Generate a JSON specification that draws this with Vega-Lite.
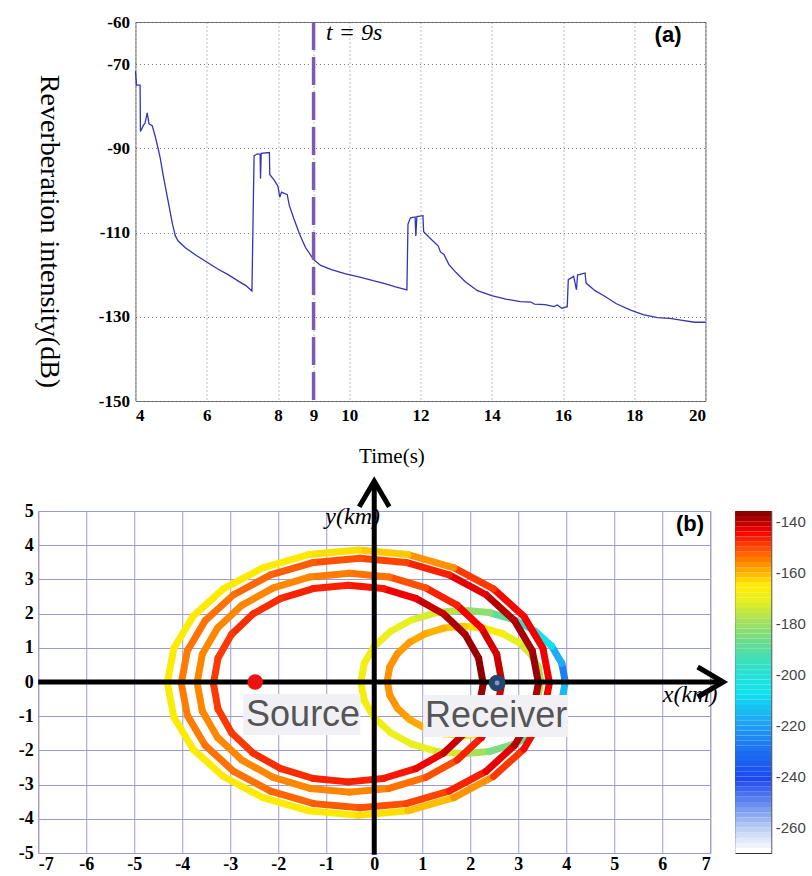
{
"$schema": "https://vega.github.io/schema/vega-lite/v6.json",
"background": "white",
"padding": {"left": 17, "top": 12, "right": 0, "bottom": 0},
"center": true,
"spacing": 3,
"datasets": {
"rev": [
{"t":4.0,"db":-71.7},{"t":4.03,"db":-75.0},{"t":4.13,"db":-75.0},{"t":4.14,"db":-86.0},{"t":4.22,"db":-84.6},{"t":4.27,"db":-84.0},{"t":4.33,"db":-81.6},{"t":4.38,"db":-84.2},{"t":4.47,"db":-84.6},{"t":4.55,"db":-87.0},{"t":4.63,"db":-89.8},{"t":4.7,"db":-92.5},{"t":4.78,"db":-96.5},{"t":4.86,"db":-100.0},{"t":4.95,"db":-104.0},{"t":5.04,"db":-108.0},{"t":5.12,"db":-110.8},{"t":5.2,"db":-112.0},{"t":5.4,"db":-113.6},{"t":5.7,"db":-115.4},{"t":6.0,"db":-117.0},{"t":6.3,"db":-118.6},{"t":6.6,"db":-120.0},{"t":6.9,"db":-121.6},{"t":7.1,"db":-122.6},{"t":7.27,"db":-123.9},
{"t":7.3,"db":-107.5},{"t":7.33,"db":-91.8},{"t":7.42,"db":-91.3},{"t":7.5,"db":-91.4},{"t":7.51,"db":-97.2},{"t":7.53,"db":-91.2},{"t":7.76,"db":-91.0},{"t":7.77,"db":-96.2},{"t":7.9,"db":-97.6},{"t":8.0,"db":-99.0},{"t":8.05,"db":-101.6},{"t":8.1,"db":-100.4},{"t":8.26,"db":-101.0},{"t":8.32,"db":-103.6},{"t":8.45,"db":-106.8},{"t":8.6,"db":-110.2},{"t":8.77,"db":-113.5},{"t":9.0,"db":-116.4},{"t":9.2,"db":-117.8},{"t":9.5,"db":-118.8},{"t":9.9,"db":-119.8},{"t":10.3,"db":-120.6},{"t":10.7,"db":-121.5},{"t":11.0,"db":-122.1},{"t":11.3,"db":-122.9},{"t":11.62,"db":-123.6},
{"t":11.65,"db":-108.0},{"t":11.72,"db":-106.5},{"t":11.85,"db":-106.3},{"t":11.87,"db":-110.8},{"t":11.9,"db":-106.2},{"t":12.07,"db":-106.0},{"t":12.09,"db":-109.8},{"t":12.3,"db":-111.6},{"t":12.5,"db":-113.2},{"t":12.56,"db":-114.6},{"t":12.66,"db":-115.2},{"t":12.8,"db":-117.6},{"t":13.0,"db":-119.5},{"t":13.25,"db":-121.6},{"t":13.6,"db":-123.8},{"t":14.0,"db":-125.0},{"t":14.4,"db":-125.8},{"t":14.8,"db":-126.4},{"t":15.1,"db":-126.5},{"t":15.2,"db":-127.0},{"t":15.5,"db":-127.1},{"t":15.75,"db":-127.6},{"t":15.84,"db":-127.2},{"t":15.97,"db":-128.0},{"t":16.12,"db":-127.6},
{"t":16.15,"db":-121.2},{"t":16.3,"db":-120.4},{"t":16.38,"db":-123.6},{"t":16.41,"db":-120.1},{"t":16.62,"db":-119.6},{"t":16.65,"db":-122.0},{"t":16.9,"db":-123.8},{"t":17.15,"db":-125.0},{"t":17.5,"db":-126.9},{"t":17.9,"db":-128.4},{"t":18.25,"db":-129.5},{"t":18.65,"db":-130.2},{"t":19.0,"db":-130.4},{"t":19.31,"db":-130.8},{"t":19.7,"db":-131.3},{"t":20.0,"db":-131.3}
],
"rings": [
{"ring":1,"k":0,"x":3.98,"y":0,"v":-228},{"ring":1,"k":1,"x":3.908,"y":0.544,"v":-218},{"ring":1,"k":2,"x":3.695,"y":1.05,"v":-207},{"ring":1,"k":3,"x":3.356,"y":1.485,"v":-198},{"ring":1,"k":4,"x":2.915,"y":1.819,"v":-190},{"ring":1,"k":5,"x":2.402,"y":2.029,"v":-183},{"ring":1,"k":6,"x":1.85,"y":2.1,"v":-178},{"ring":1,"k":7,"x":1.298,"y":2.029,"v":-174},{"ring":1,"k":8,"x":0.785,"y":1.819,"v":-172},{"ring":1,"k":9,"x":0.344,"y":1.485,"v":-171},{"ring":1,"k":10,"x":0.005,"y":1.05,"v":-170},{"ring":1,"k":11,"x":-0.208,"y":0.544,"v":-169},{"ring":1,"k":12,"x":-0.28,"y":0,"v":-168},{"ring":1,"k":13,"x":-0.208,"y":-0.544,"v":-169},{"ring":1,"k":14,"x":0.005,"y":-1.05,"v":-170},{"ring":1,"k":15,"x":0.344,"y":-1.485,"v":-171},{"ring":1,"k":16,"x":0.785,"y":-1.819,"v":-172},{"ring":1,"k":17,"x":1.298,"y":-2.029,"v":-175},{"ring":1,"k":18,"x":1.85,"y":-2.1,"v":-180},{"ring":1,"k":19,"x":2.402,"y":-2.029,"v":-186},{"ring":1,"k":20,"x":2.915,"y":-1.819,"v":-192},{"ring":1,"k":21,"x":3.356,"y":-1.485,"v":-198},{"ring":1,"k":22,"x":3.695,"y":-1.05,"v":-205},{"ring":1,"k":23,"x":3.908,"y":-0.544,"v":-216},{"ring":1,"k":24,"x":3.98,"y":0,"v":-228},
{"ring":2,"k":0,"x":3.47,"y":0.03,"v":-180},{"ring":2,"k":1,"x":3.416,"y":0.444,"v":-178},{"ring":2,"k":2,"x":3.256,"y":0.83,"v":-175},{"ring":2,"k":3,"x":3.001,"y":1.161,"v":-172},{"ring":2,"k":4,"x":2.67,"y":1.416,"v":-168},{"ring":2,"k":5,"x":2.284,"y":1.576,"v":-165},{"ring":2,"k":6,"x":1.87,"y":1.63,"v":-163},{"ring":2,"k":7,"x":1.456,"y":1.576,"v":-161},{"ring":2,"k":8,"x":1.07,"y":1.416,"v":-160},{"ring":2,"k":9,"x":0.739,"y":1.161,"v":-159},{"ring":2,"k":10,"x":0.484,"y":0.83,"v":-158},{"ring":2,"k":11,"x":0.324,"y":0.444,"v":-158},{"ring":2,"k":12,"x":0.27,"y":0.03,"v":-158},{"ring":2,"k":13,"x":0.324,"y":-0.384,"v":-158},{"ring":2,"k":14,"x":0.484,"y":-0.77,"v":-159},{"ring":2,"k":15,"x":0.739,"y":-1.101,"v":-160},{"ring":2,"k":16,"x":1.07,"y":-1.356,"v":-162},{"ring":2,"k":17,"x":1.456,"y":-1.516,"v":-165},{"ring":2,"k":18,"x":1.87,"y":-1.57,"v":-168},{"ring":2,"k":19,"x":2.284,"y":-1.516,"v":-171},{"ring":2,"k":20,"x":2.67,"y":-1.356,"v":-174},{"ring":2,"k":21,"x":3.001,"y":-1.101,"v":-176},{"ring":2,"k":22,"x":3.256,"y":-0.77,"v":-178},{"ring":2,"k":23,"x":3.416,"y":-0.384,"v":-179},{"ring":2,"k":24,"x":3.47,"y":0.03,"v":-180},
{"ring":3,"k":0,"x":3.65,"y":-0.02,"v":-145},{"ring":3,"k":1,"x":3.515,"y":0.985,"v":-145},{"ring":3,"k":2,"x":3.117,"y":1.92,"v":-146},{"ring":3,"k":3,"x":2.484,"y":2.723,"v":-150},{"ring":3,"k":4,"x":1.66,"y":3.34,"v":-158},{"ring":3,"k":5,"x":0.701,"y":3.728,"v":-163},{"ring":3,"k":6,"x":-0.33,"y":3.86,"v":-165},{"ring":3,"k":7,"x":-1.361,"y":3.728,"v":-166},{"ring":3,"k":8,"x":-2.32,"y":3.34,"v":-166},{"ring":3,"k":9,"x":-3.144,"y":2.723,"v":-166},{"ring":3,"k":10,"x":-3.777,"y":1.92,"v":-167},{"ring":3,"k":11,"x":-4.175,"y":0.985,"v":-167},{"ring":3,"k":12,"x":-4.31,"y":-0.02,"v":-168},{"ring":3,"k":13,"x":-4.175,"y":-1.025,"v":-167},{"ring":3,"k":14,"x":-3.777,"y":-1.96,"v":-166},{"ring":3,"k":15,"x":-3.144,"y":-2.763,"v":-166},{"ring":3,"k":16,"x":-2.32,"y":-3.38,"v":-166},{"ring":3,"k":17,"x":-1.361,"y":-3.768,"v":-166},{"ring":3,"k":18,"x":-0.33,"y":-3.9,"v":-165},{"ring":3,"k":19,"x":0.701,"y":-3.768,"v":-162},{"ring":3,"k":20,"x":1.66,"y":-3.38,"v":-158},{"ring":3,"k":21,"x":2.484,"y":-2.763,"v":-150},{"ring":3,"k":22,"x":3.117,"y":-1.96,"v":-146},{"ring":3,"k":23,"x":3.515,"y":-1.025,"v":-145},{"ring":3,"k":24,"x":3.65,"y":-0.02,"v":-145},
{"ring":4,"k":0,"x":3.42,"y":-0.03,"v":-139},{"ring":4,"k":1,"x":3.293,"y":0.915,"v":-140},{"ring":4,"k":2,"x":2.922,"y":1.795,"v":-141},{"ring":4,"k":3,"x":2.33,"y":2.551,"v":-144},{"ring":4,"k":4,"x":1.56,"y":3.131,"v":-148},{"ring":4,"k":5,"x":0.663,"y":3.496,"v":-151},{"ring":4,"k":6,"x":-0.3,"y":3.62,"v":-152},{"ring":4,"k":7,"x":-1.263,"y":3.496,"v":-153},{"ring":4,"k":8,"x":-2.16,"y":3.131,"v":-154},{"ring":4,"k":9,"x":-2.93,"y":2.551,"v":-155},{"ring":4,"k":10,"x":-3.522,"y":1.795,"v":-155},{"ring":4,"k":11,"x":-3.893,"y":0.915,"v":-156},{"ring":4,"k":12,"x":-4.02,"y":-0.03,"v":-156},{"ring":4,"k":13,"x":-3.893,"y":-0.975,"v":-156},{"ring":4,"k":14,"x":-3.522,"y":-1.855,"v":-155},{"ring":4,"k":15,"x":-2.93,"y":-2.611,"v":-155},{"ring":4,"k":16,"x":-2.16,"y":-3.191,"v":-154},{"ring":4,"k":17,"x":-1.263,"y":-3.556,"v":-153},{"ring":4,"k":18,"x":-0.3,"y":-3.68,"v":-152},{"ring":4,"k":19,"x":0.663,"y":-3.556,"v":-151},{"ring":4,"k":20,"x":1.56,"y":-3.191,"v":-148},{"ring":4,"k":21,"x":2.33,"y":-2.611,"v":-144},{"ring":4,"k":22,"x":2.922,"y":-1.855,"v":-141},{"ring":4,"k":23,"x":3.293,"y":-0.975,"v":-140},{"ring":4,"k":24,"x":3.42,"y":-0.03,"v":-139},
{"ring":5,"k":0,"x":2.66,"y":-0.02,"v":-142},{"ring":5,"k":1,"x":2.552,"y":0.809,"v":-143},{"ring":5,"k":2,"x":2.235,"y":1.58,"v":-145},{"ring":5,"k":3,"x":1.73,"y":2.242,"v":-148},{"ring":5,"k":4,"x":1.073,"y":2.751,"v":-152},{"ring":5,"k":5,"x":0.307,"y":3.071,"v":-155},{"ring":5,"k":6,"x":-0.515,"y":3.18,"v":-156},{"ring":5,"k":7,"x":-1.337,"y":3.071,"v":-157},{"ring":5,"k":8,"x":-2.103,"y":2.751,"v":-157},{"ring":5,"k":9,"x":-2.76,"y":2.242,"v":-157},{"ring":5,"k":10,"x":-3.265,"y":1.58,"v":-157},{"ring":5,"k":11,"x":-3.582,"y":0.809,"v":-157},{"ring":5,"k":12,"x":-3.69,"y":-0.02,"v":-157},{"ring":5,"k":13,"x":-3.582,"y":-0.849,"v":-157},{"ring":5,"k":14,"x":-3.265,"y":-1.62,"v":-157},{"ring":5,"k":15,"x":-2.76,"y":-2.282,"v":-157},{"ring":5,"k":16,"x":-2.103,"y":-2.791,"v":-157},{"ring":5,"k":17,"x":-1.337,"y":-3.111,"v":-157},{"ring":5,"k":18,"x":-0.515,"y":-3.22,"v":-157},{"ring":5,"k":19,"x":0.307,"y":-3.111,"v":-155},{"ring":5,"k":20,"x":1.073,"y":-2.791,"v":-152},{"ring":5,"k":21,"x":1.73,"y":-2.282,"v":-148},{"ring":5,"k":22,"x":2.235,"y":-1.62,"v":-145},{"ring":5,"k":23,"x":2.552,"y":-0.849,"v":-143},{"ring":5,"k":24,"x":2.66,"y":-0.02,"v":-142},
{"ring":6,"k":0,"x":2.27,"y":-0.045,"v":-138},{"ring":6,"k":1,"x":2.174,"y":0.7,"v":-139},{"ring":6,"k":2,"x":1.893,"y":1.393,"v":-140},{"ring":6,"k":3,"x":1.447,"y":1.988,"v":-142},{"ring":6,"k":4,"x":0.865,"y":2.445,"v":-145},{"ring":6,"k":5,"x":0.188,"y":2.732,"v":-147},{"ring":6,"k":6,"x":-0.54,"y":2.83,"v":-148},{"ring":6,"k":7,"x":-1.268,"y":2.732,"v":-148},{"ring":6,"k":8,"x":-1.945,"y":2.445,"v":-149},{"ring":6,"k":9,"x":-2.527,"y":1.988,"v":-149},{"ring":6,"k":10,"x":-2.973,"y":1.393,"v":-150},{"ring":6,"k":11,"x":-3.254,"y":0.7,"v":-150},{"ring":6,"k":12,"x":-3.35,"y":-0.045,"v":-150},{"ring":6,"k":13,"x":-3.254,"y":-0.79,"v":-150},{"ring":6,"k":14,"x":-2.973,"y":-1.483,"v":-150},{"ring":6,"k":15,"x":-2.527,"y":-2.078,"v":-149},{"ring":6,"k":16,"x":-1.945,"y":-2.535,"v":-149},{"ring":6,"k":17,"x":-1.268,"y":-2.822,"v":-148},{"ring":6,"k":18,"x":-0.54,"y":-2.92,"v":-148},{"ring":6,"k":19,"x":0.188,"y":-2.822,"v":-147},{"ring":6,"k":20,"x":0.865,"y":-2.535,"v":-145},{"ring":6,"k":21,"x":1.447,"y":-2.078,"v":-142},{"ring":6,"k":22,"x":1.893,"y":-1.483,"v":-140},{"ring":6,"k":23,"x":2.174,"y":-0.79,"v":-139},{"ring":6,"k":24,"x":2.27,"y":-0.045,"v":-138}
],
"bar": [
{"lo":-270,"hi":-268},{"lo":-268,"hi":-266},{"lo":-266,"hi":-264},{"lo":-264,"hi":-262},{"lo":-262,"hi":-260},{"lo":-260,"hi":-258},{"lo":-258,"hi":-256},{"lo":-256,"hi":-254},{"lo":-254,"hi":-252},{"lo":-252,"hi":-250},{"lo":-250,"hi":-248},{"lo":-248,"hi":-246},{"lo":-246,"hi":-244},{"lo":-244,"hi":-242},{"lo":-242,"hi":-240},{"lo":-240,"hi":-238},{"lo":-238,"hi":-236},{"lo":-236,"hi":-234},{"lo":-234,"hi":-232},{"lo":-232,"hi":-230},{"lo":-230,"hi":-228},{"lo":-228,"hi":-226},{"lo":-226,"hi":-224},{"lo":-224,"hi":-222},{"lo":-222,"hi":-220},{"lo":-220,"hi":-218},{"lo":-218,"hi":-216},{"lo":-216,"hi":-214},{"lo":-214,"hi":-212},{"lo":-212,"hi":-210},{"lo":-210,"hi":-208},{"lo":-208,"hi":-206},{"lo":-206,"hi":-204},{"lo":-204,"hi":-202},{"lo":-202,"hi":-200},{"lo":-200,"hi":-198},{"lo":-198,"hi":-196},{"lo":-196,"hi":-194},{"lo":-194,"hi":-192},{"lo":-192,"hi":-190},{"lo":-190,"hi":-188},{"lo":-188,"hi":-186},{"lo":-186,"hi":-184},{"lo":-184,"hi":-182},{"lo":-182,"hi":-180},{"lo":-180,"hi":-178},{"lo":-178,"hi":-176},{"lo":-176,"hi":-174},{"lo":-174,"hi":-172},{"lo":-172,"hi":-170},{"lo":-170,"hi":-168},{"lo":-168,"hi":-166},{"lo":-166,"hi":-164},{"lo":-164,"hi":-162},{"lo":-162,"hi":-160},{"lo":-160,"hi":-158},{"lo":-158,"hi":-156},{"lo":-156,"hi":-154},{"lo":-154,"hi":-152},{"lo":-152,"hi":-150},{"lo":-150,"hi":-148},{"lo":-148,"hi":-146},{"lo":-146,"hi":-144},{"lo":-144,"hi":-142},{"lo":-142,"hi":-140},{"lo":-140,"hi":-138},{"lo":-138,"hi":-136}
]
},
"vconcat": [
{
"width": 570, "height": 379,
"view": {"stroke": "#777", "strokeWidth": 1},
"layer": [
{"data": {"name": "rev"},
 "mark": {"type": "line", "color": "#3434b4", "strokeWidth": 1.3},
 "encoding": {
  "x": {"field": "t", "type": "quantitative", "scale": {"domain": [4, 20], "nice": false, "zero": false},
   "axis": {"title": "Time(s)", "values": [4,6,8,9,10,12,14,16,18,20], "labelExpr": "'' + datum.value", "labelOverlap": false, "grid": true, "gridColor": "#555", "gridDash": [1,3], "gridOpacity": 0.8, "domain": false, "ticks": false, "labelFont": "Liberation Serif", "labelFontWeight": "bold", "labelFontSize": 17, "labelColor": "#000", "labelPadding": 6, "titleFont": "Liberation Serif", "titleFontWeight": "normal", "titleFontSize": 21, "titleColor": "#000", "titlePadding": 22, "titleX": 256}},
  "y": {"field": "db", "type": "quantitative", "scale": {"domain": [-150, -60], "nice": false, "zero": false},
   "axis": {"title": "Reverberation intensity(dB)", "values": [-60,-70,-90,-110,-130,-150], "labelExpr": "'\u00a0\u00a0\u00a0\u00a0\u00a0\u00a0\u00a0\u00a0\u00a0\u00a0\u00a0\u00a0\u00a0\u00a0\u00a0' + datum.value", "labelOverlap": false, "labelLimit": 300, "grid": true, "gridColor": "#555", "gridDash": [1,3], "gridOpacity": 0.8, "domain": false, "ticks": false, "labelFont": "Liberation Serif", "labelFontWeight": "bold", "labelFontSize": 17, "labelColor": "#000", "labelPadding": 6, "titleFont": "Liberation Serif", "titleFontWeight": "normal", "titleFontSize": 28, "titleColor": "#000", "titleAngle": 90, "titleBaseline": "middle", "titleAlign": "center", "titleX": -87, "titleY": 209}}
 }},
{"data": {"values": [{"t": 9}]},
 "mark": {"type": "rule", "color": "#7b5cb0", "strokeWidth": 3.5, "strokeDash": [28, 7]},
 "encoding": {"x": {"field": "t", "type": "quantitative"}}},
{"data": {"values": [{"t": 9.35, "db": -62.6, "label": "t = 9s"}]},
 "mark": {"type": "text", "align": "left", "baseline": "middle", "font": "Liberation Serif", "fontStyle": "italic", "fontSize": 24, "color": "#000"},
 "encoding": {"x": {"field": "t", "type": "quantitative"}, "y": {"field": "db", "type": "quantitative"}, "text": {"field": "label"}}},
{"data": {"values": [{"t": 18.95, "db": -63.2, "label": "(a)"}]},
 "mark": {"type": "text", "align": "center", "baseline": "middle", "font": "Liberation Sans", "fontWeight": "bold", "fontSize": 22, "color": "#000"},
 "encoding": {"x": {"field": "t", "type": "quantitative"}, "y": {"field": "db", "type": "quantitative"}, "text": {"field": "label"}}}
]
},
{
"spacing": 0,
"hconcat": [
{
"width": 672, "height": 342,
"view": {"stroke": "#999", "strokeWidth": 1},
"encoding": {
 "x": {"field": "x", "type": "quantitative", "scale": {"domain": [-7, 7], "nice": false, "zero": false},
  "axis": {"title": null, "values": [-7,-6,-5,-4,-3,-2,-1,0,1,2,3,4,5,6,7], "labelExpr": "'' + datum.value", "labelOverlap": false, "grid": true, "gridColor": "#9a9ad6", "gridOpacity": 1, "domain": false, "ticks": false, "labelFont": "Liberation Serif", "labelFontWeight": "bold", "labelFontSize": 18, "labelColor": "#000", "labelPadding": 2}},
 "y": {"field": "y", "type": "quantitative", "scale": {"domain": [-5, 5], "nice": false, "zero": false},
  "axis": {"title": null, "values": [-5,-4,-3,-2,-1,0,1,2,3,4,5], "labelExpr": "'' + datum.value", "labelOverlap": false, "grid": true, "gridColor": "#9a9ad6", "gridOpacity": 1, "domain": false, "ticks": false, "labelFont": "Liberation Serif", "labelFontWeight": "bold", "labelFontSize": 18, "labelColor": "#000", "labelPadding": 5}}
},
"layer": [
{"data": {"name": "rings"},
 "transform": [
  {"window": [{"op": "lead", "field": "x", "as": "x2"}, {"op": "lead", "field": "y", "as": "y2"}], "groupby": ["ring"], "sort": [{"field": "k", "order": "ascending"}]},
  {"filter": "datum.x2 != null"}
 ],
 "mark": {"type": "rule", "strokeWidth": 7, "strokeCap": "round"},
 "encoding": {
  "x2": {"field": "x2"},
  "y2": {"field": "y2"},
  "order": {"field": "ring", "type": "quantitative"},
  "color": {"field": "v", "type": "quantitative",
   "scale": {"type": "linear", "domain": [-270,-262,-252,-242,-232,-220,-208,-198,-188,-180,-172,-166,-160,-152,-145,-136], "range": ["#ffffff","#c0d2f4","#6a8ff0","#1c48ee","#1c6cf2","#1ea4f2","#10e2f0","#30e0c8","#6cdc8c","#a6e058","#e8f020","#ffea00","#ffa800","#ff5000","#f20000","#700000"], "interpolate": "rgb"},
   "legend": null}
 }},
{"data": {"values": [{"x": 0.12, "y": 4.83, "label": "y(km)"}, {"x": 7.15, "y": -0.38, "label": "x(km)"}]},
 "mark": {"type": "text", "align": "right", "baseline": "middle", "font": "Liberation Serif", "fontStyle": "italic", "fontSize": 24, "color": "#000"},
 "encoding": {"text": {"field": "label"}}},
{"data": {"values": [{"x": 6.58, "y": 4.62, "label": "(b)"}]},
 "mark": {"type": "text", "align": "center", "baseline": "middle", "font": "Liberation Sans", "fontWeight": "bold", "fontSize": 22, "color": "#000"},
 "encoding": {"text": {"field": "label"}}},
{"data": {"values": [{"x": -7, "x2": 7.23, "y": 0, "y2": 0}, {"x": 0, "x2": 0, "y": -5.05, "y2": 5.83}]},
 "mark": {"type": "rule", "color": "#000", "strokeWidth": 5},
 "encoding": {"x2": {"field": "x2"}, "y2": {"field": "y2"}}},
{"data": {"values": [{"x": 7.27, "y": 0}]},
 "mark": {"type": "point", "shape": "M-1.7,-1L0,0L-1.7,1", "size": 900, "filled": false, "color": "#000", "strokeWidth": 5, "opacity": 1}},
{"data": {"values": [{"x": 0, "y": 5.87}]},
 "mark": {"type": "point", "shape": "M-1,1.7L0,0L1,1.7", "size": 900, "filled": false, "color": "#000", "strokeWidth": 5, "opacity": 1}},
{"data": {"values": [{"x": -2.48, "y": 0}]},
 "mark": {"type": "point", "shape": "circle", "size": 240, "filled": true, "color": "#ee1111", "opacity": 1}},
{"data": {"values": [{"x": 2.56, "y": -0.03}]},
 "mark": {"type": "point", "shape": "circle", "size": 280, "filled": true, "color": "#24466e", "opacity": 1}},
{"data": {"values": [{"x": 2.56, "y": -0.03}]},
 "mark": {"type": "point", "shape": "circle", "size": 24, "filled": true, "color": "#7b9ccc", "opacity": 1}},
{"data": {"values": [{"x": -2.73, "x2": -0.29, "y": -0.35, "y2": -1.55}, {"x": 1.02, "x2": 4.04, "y": -0.38, "y2": -1.61}]},
 "mark": {"type": "rect", "color": "#f1f1f5", "opacity": 1},
 "encoding": {"x2": {"field": "x2"}, "y2": {"field": "y2"}}},
{"data": {"values": [{"x": -2.67, "y": -0.97, "label": "Source"}, {"x": 1.06, "y": -1.0, "label": "Receiver"}]},
 "mark": {"type": "text", "align": "left", "baseline": "middle", "font": "Liberation Sans", "fontSize": 36, "color": "#555"},
 "encoding": {"text": {"field": "label"}}}
]
},
{
"width": 36, "height": 342,
"view": {"stroke": "#333", "strokeWidth": 1},
"data": {"name": "bar"},
"mark": {"type": "rect"},
"encoding": {
 "y": {"field": "lo", "type": "quantitative", "scale": {"domain": [-270, -136], "nice": false, "zero": false},
  "axis": {"orient": "right", "title": null, "values": [-140,-160,-180,-200,-220,-240,-260], "labelExpr": "'' + datum.value", "labelOverlap": false, "grid": false, "domain": false, "ticks": false, "labelFont": "Liberation Sans", "labelFontSize": 15, "labelColor": "#444", "labelPadding": 4}},
 "y2": {"field": "hi"},
 "color": {"field": "lo", "type": "quantitative",
  "scale": {"type": "linear", "domain": [-270,-262,-252,-242,-232,-220,-208,-198,-188,-180,-172,-166,-160,-152,-145,-136], "range": ["#ffffff","#c0d2f4","#6a8ff0","#1c48ee","#1c6cf2","#1ea4f2","#10e2f0","#30e0c8","#6cdc8c","#a6e058","#e8f020","#ffea00","#ffa800","#ff5000","#f20000","#700000"], "interpolate": "rgb"},
  "legend": null}
}
}
]
}
]
}
